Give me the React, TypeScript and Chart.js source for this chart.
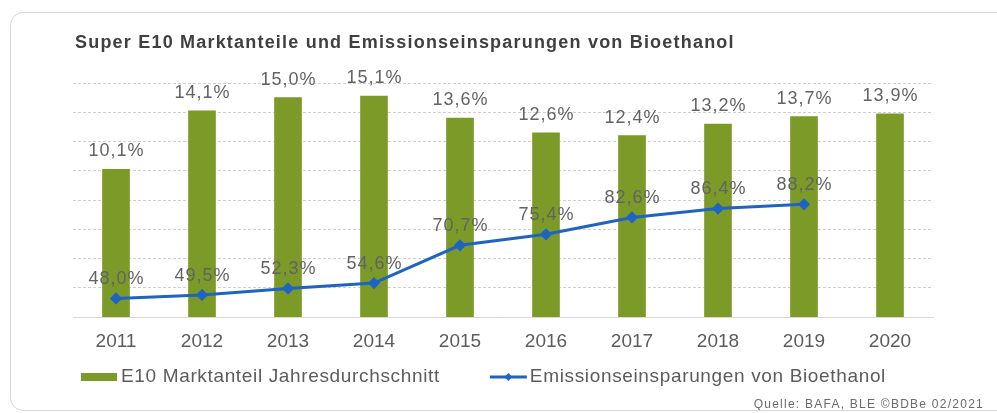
import React, { useEffect, useRef } from "react";
import { Chart, registerables } from "chart.js";

Chart.register(...registerables);

const years = ["2011", "2012", "2013", "2014", "2015", "2016", "2017", "2018", "2019", "2020"];
const marketShare = [10.1, 14.1, 15.0, 15.1, 13.6, 12.6, 12.4, 13.2, 13.7, 13.9];
const emissionSavings = [48.0, 49.5, 52.3, 54.6, 70.7, 75.4, 82.6, 86.4, 88.2, null];
const titleText = "Super E10 Marktanteile und Emissionseinsparungen von Bioethanol";
const barLegend = "E10 Marktanteil Jahresdurchschnitt";
const lineLegend = "Emissionseinsparungen von Bioethanol";
const sourceText = "Quelle: BAFA, BLE ©BDBe 02/2021";

const FONT = "'Liberation Sans', Arial, sans-serif";
const GREEN = "#7b9a28";
const BLUE = "#1f63c3";
const TEXT = "#5c5c5c";

const fmt = (v: number) => v.toFixed(1).replace(".", ",") + "%";

const valueLabels = {
  id: "valueLabels",
  afterDatasetsDraw(chart: any) {
    const ctx = chart.ctx;
    ctx.save();
    ctx.font = `18px ${FONT}`;
    (ctx as any).letterSpacing = "1px";
    ctx.fillStyle = "#636363";
    ctx.textAlign = "center";
    ctx.textBaseline = "middle";
    chart.data.datasets.forEach((ds: any, i: number) => {
      const meta = chart.getDatasetMeta(i);
      meta.data.forEach((el: any, j: number) => {
        const v = ds.data[j];
        if (v == null) return;
        const off = meta.type === "bar" ? 18 : 19;
        ctx.fillText(fmt(v), el.x + 0.5, el.y - off);
      });
    });
    ctx.restore();
  },
};

const extraText = {
  id: "extraText",
  afterDraw(chart: any) {
    const ctx = chart.ctx;
    const area = chart.chartArea;
    ctx.save();
    // title
    ctx.font = `bold 18px ${FONT}`;
    (ctx as any).letterSpacing = "1.2px";
    ctx.fillStyle = "#404040";
    ctx.textAlign = "left";
    ctx.textBaseline = "middle";
    ctx.fillText(titleText, area.left + 2, 43);

    // legend
    const y = 377;
    ctx.font = `19px ${FONT}`;
    (ctx as any).letterSpacing = "0.65px";
    let x = area.left + 8;
    ctx.fillStyle = GREEN;
    ctx.fillRect(x, y - 4, 36, 8);
    x += 40;
    ctx.fillStyle = TEXT;
    ctx.fillText(barLegend, x, y);
    x += ctx.measureText(barLegend).width + 50;
    ctx.strokeStyle = BLUE;
    ctx.lineWidth = 3;
    ctx.beginPath();
    ctx.moveTo(x, y);
    ctx.lineTo(x + 37, y);
    ctx.stroke();
    const cx = x + 18.5;
    ctx.fillStyle = BLUE;
    ctx.beginPath();
    ctx.moveTo(cx, y - 4);
    ctx.lineTo(cx + 4, y);
    ctx.lineTo(cx, y + 4);
    ctx.lineTo(cx - 4, y);
    ctx.closePath();
    ctx.fill();
    x += 40;
    ctx.fillStyle = TEXT;
    ctx.fillText(lineLegend, x, y);

    // source
    ctx.font = `12px ${FONT}`;
    (ctx as any).letterSpacing = "1.25px";
    ctx.textAlign = "right";
    ctx.fillStyle = "#6a6a6a";
    ctx.fillText(sourceText, 984, 405);
    ctx.restore();
  },
};

export default function App() {
  const ref = useRef<HTMLCanvasElement | null>(null);

  useEffect(() => {
    if (!ref.current) return;
    const chart = new Chart(ref.current, {
      type: "bar",
      data: {
        labels: years,
        datasets: [
          {
            type: "line",
            label: lineLegend,
            data: emissionSavings,
            yAxisID: "y1",
            borderColor: BLUE,
            backgroundColor: BLUE,
            borderWidth: 3,
            pointStyle: "rectRot",
            pointRadius: 4,
            pointBackgroundColor: BLUE,
            pointBorderColor: BLUE,
            tension: 0,
            order: 0,
          } as any,
          {
            type: "bar",
            label: barLegend,
            data: marketShare,
            yAxisID: "y",
            backgroundColor: GREEN,
            barThickness: 27,
            order: 1,
          },
        ],
      },
      options: {
        responsive: false,
        animation: false,
        layout: { padding: { top: 83, left: 73, right: 64, bottom: 47 } },
        plugins: {
          legend: { display: false },
          tooltip: { enabled: false },
          title: { display: false },
        },
        scales: {
          x: {
            grid: { display: false, drawTicks: false },
            border: { display: true, color: "#d9d9d9", width: 1 },
            ticks: { color: TEXT, font: { family: FONT, size: 19 }, padding: 13 },
          },
          y: {
            position: "left",
            min: 0,
            max: 16,
            ticks: { stepSize: 2, display: false },
            grid: {
              drawTicks: false,
              color: (c: any) => (c.tick && c.tick.value === 0 ? "rgba(0,0,0,0)" : "#cfcfcf"),
              lineWidth: 1,
            },
            border: { display: false, dash: [3, 2] },
          },
          y1: {
            display: false,
            position: "right",
            min: 40,
            max: 140,
          },
        },
      },
      plugins: [valueLabels, extraText],
    });
    return () => chart.destroy();
  }, []);

  return (
    <div style={{ position: "fixed", left: 0, top: 0, width: 997, height: 413, overflow: "hidden", background: "#fff" }}>
      <canvas ref={ref} width={997} height={413} style={{ position: "absolute", left: 0, top: 0 }} />
      <div
        style={{
          position: "absolute",
          left: 10,
          top: 12,
          width: 1010,
          height: 397,
          border: "1px solid #d6d6d6",
          borderRadius: 13,
          pointerEvents: "none",
        }}
      />
    </div>
  );
}
